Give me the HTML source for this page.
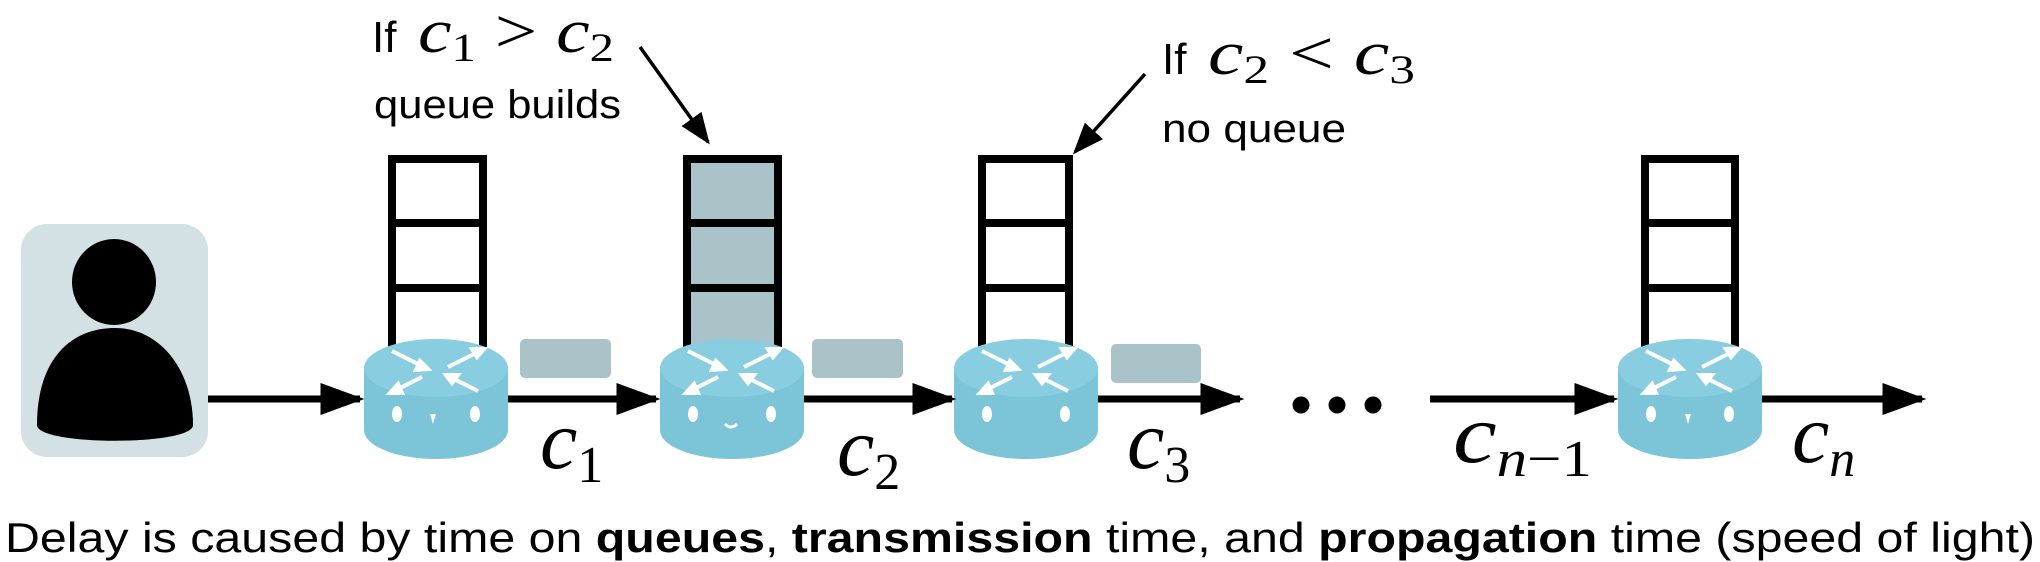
<!DOCTYPE html>
<html><head><meta charset="utf-8"><style>
html,body{margin:0;padding:0;background:#fff;}
svg{display:block;}
.m{font-family:"Liberation Serif",serif;font-style:italic;}
.s{font-family:"Liberation Sans",sans-serif;}
</style></head><body>
<svg width="2040" height="562" viewBox="0 0 2040 562" xmlns="http://www.w3.org/2000/svg">
<defs>
<marker id="ah" viewBox="0 0 10 10" refX="9" refY="5" markerWidth="6.3" markerHeight="4.6" orient="auto" markerUnits="strokeWidth" preserveAspectRatio="none"><path d="M0,0 L10,5 L0,10 z" fill="#000"/></marker>
<marker id="ah2" viewBox="0 0 10 10" refX="9" refY="5" markerWidth="9" markerHeight="7" orient="auto" markerUnits="strokeWidth" preserveAspectRatio="none"><path d="M0,0 L10,5 L0,10 z" fill="#000"/></marker>
<g id="router">
<path d="M0,29 L0,91 A72,29 0 0 0 144,91 L144,29 Z" fill="#7cc5d9"/>
<ellipse cx="72" cy="29" rx="72" ry="29" fill="#89cde0"/>
<g stroke="#fff" stroke-width="4" fill="#fff">
<line x1="28" y1="12" x2="60" y2="28"/><polygon points="64,30 52,31 56,22"/>
<line x1="116" y1="12" x2="84" y2="28"/><polygon points="120,10 108,10 113,18"/>
<line x1="58" y1="38" x2="30" y2="52"/><polygon points="26,54 38,54 34,45"/>
<line x1="86" y1="38" x2="114" y2="52"/><polygon points="82,36 94,36 88,44"/>
</g>
<ellipse cx="33" cy="75" rx="5" ry="8" fill="#fff"/>
<ellipse cx="111" cy="75" rx="5" ry="8" fill="#fff"/>
</g>
</defs>

<rect x="21" y="224" width="187" height="233" rx="26" fill="#d3e0e4"/>
<ellipse cx="114" cy="282" rx="42" ry="43" fill="#000"/>
<path d="M37,425 C37,360 70,328 115,328 C160,328 193,370 193,425 C193,446 37,446 37,425 Z" fill="#000"/>

<g fill="none" stroke="#000" stroke-width="8">
<path d="M392,347 L392,159 L483,159 L483,347 M392,223 L483,223 M392,288 L483,288"/>
</g>
<g>
<rect x="687" y="159" width="91" height="190" fill="#aac3c8"/>
<path d="M687,347 L687,159 L778,159 L778,347 M687,223 L778,223 M687,288 L778,288" fill="none" stroke="#000" stroke-width="8"/>
</g>
<g fill="none" stroke="#000" stroke-width="8">
<path d="M982,347 L982,159 L1069,159 L1069,347 M982,223 L1069,223 M982,288 L1069,288"/>
</g>
<g fill="none" stroke="#000" stroke-width="8">
<path d="M1645,347 L1645,159 L1735,159 L1735,347 M1645,223 L1735,223 M1645,288 L1735,288"/>
</g>

<use href="#router" x="364" y="339"/>
<use href="#router" x="660" y="339"/>
<use href="#router" x="954" y="339"/>
<use href="#router" x="1618" y="339"/>
<path d="M430,414 l3,10 l3,-10z" fill="#fff"/>
<path d="M725,424 q6,6 12,0" stroke="#fff" stroke-width="3" fill="none"/>
<path d="M1685,414 l3,10 l3,-10z" fill="#fff"/>

<rect x="520" y="339" width="91" height="39" rx="5" fill="#aac3c8"/>
<rect x="812" y="339" width="91" height="39" rx="5" fill="#aac3c8"/>
<rect x="1111" y="344" width="90" height="39" rx="5" fill="#aac3c8"/>

<g stroke="#000" stroke-width="7" fill="none">
<line x1="208" y1="399" x2="360" y2="399" marker-end="url(#ah)"/>
<line x1="508" y1="399" x2="656" y2="399" marker-end="url(#ah)"/>
<line x1="804" y1="399" x2="952" y2="399" marker-end="url(#ah)"/>
<line x1="1098" y1="399" x2="1240" y2="399" marker-end="url(#ah)"/>
<line x1="1430" y1="399" x2="1614" y2="399" marker-end="url(#ah)"/>
<line x1="1762" y1="399" x2="1922" y2="399" marker-end="url(#ah)"/>
</g>
<g fill="#000">
<circle cx="1301" cy="405" r="8.5"/><circle cx="1337" cy="405" r="8.5"/><circle cx="1373" cy="405" r="8.5"/>
</g>

<g stroke="#000" stroke-width="3.5">
<line x1="640" y1="47" x2="708" y2="142" marker-end="url(#ah2)"/>
<line x1="1145" y1="74" x2="1075" y2="152" marker-end="url(#ah2)"/>
</g>

<g>
<text x="372" y="52" class="s" font-size="44">If</text>
<text x="418" y="52" class="m" font-size="62" textLength="196" lengthAdjust="spacingAndGlyphs">c<tspan font-size="40" font-style="normal" dy="9">1</tspan><tspan font-style="normal" dy="-9"> &gt; </tspan>c<tspan font-size="40" font-style="normal" dy="9">2</tspan></text>
<text x="374" y="118" class="s" font-size="40" textLength="247" lengthAdjust="spacingAndGlyphs">queue builds</text>
</g>
<g>
<text x="1162" y="74" class="s" font-size="44">If</text>
<text x="1208" y="74" class="m" font-size="62" textLength="207" lengthAdjust="spacingAndGlyphs">c<tspan font-size="40" font-style="normal" dy="9">2</tspan><tspan font-style="normal" dy="-9"> &lt; </tspan>c<tspan font-size="40" font-style="normal" dy="9">3</tspan></text>
<text x="1162" y="142" class="s" font-size="40" textLength="184" lengthAdjust="spacingAndGlyphs">no queue</text>
</g>

<text x="540" y="468" class="m" font-size="84">c<tspan font-size="52" font-style="normal" dy="14">1</tspan></text>
<text x="837" y="475" class="m" font-size="84">c<tspan font-size="52" font-style="normal" dy="14">2</tspan></text>
<text x="1127" y="468" class="m" font-size="84">c<tspan font-size="52" font-style="normal" dy="14">3</tspan></text>
<text x="1453" y="462" class="m" font-size="84" textLength="139" lengthAdjust="spacingAndGlyphs">c<tspan font-size="52" dy="14">n</tspan><tspan font-size="52" font-style="normal">−1</tspan></text>
<text x="1792" y="462" class="m" font-size="84">c<tspan font-size="52" dy="14">n</tspan></text>

<text x="5" y="552" class="s" font-size="42" textLength="2030" lengthAdjust="spacingAndGlyphs">Delay is caused by time on <tspan font-weight="bold">queues</tspan>, <tspan font-weight="bold">transmission</tspan> time, and <tspan font-weight="bold">propagation</tspan> time (speed of light)</text>
</svg>
</body></html>
